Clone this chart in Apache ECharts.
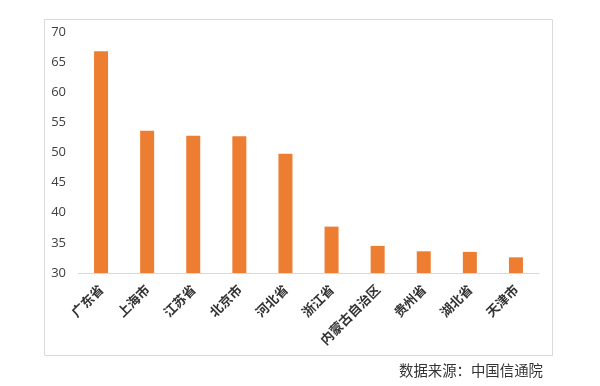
<!DOCTYPE html>
<html><head><meta charset="utf-8">
<script src="https://cdn.jsdelivr.net/npm/echarts@6/dist/echarts.min.js"></script>
<style>html,body{margin:0;padding:0;background:#fff}#c{width:600px;height:386px}</style>
</head><body><div id="c"></div>
<script>
const categories = ['广东省','上海市','江苏省','北京市','河北省','浙江省','内蒙古自治区','贵州省','湖北省','天津市'];
const values = [66.8, 53.6, 52.8, 52.7, 49.8, 37.7, 34.5, 33.6, 33.5, 32.6];
const yMin = 30, yMax = 70, yStep = 5;
const sourceText = '数据来源：中国信通院';

const chart = echarts.init(document.getElementById('c'), null, {renderer:'canvas'});
chart.setOption({
  animation: false,
  backgroundColor: '#fff',
  grid: {left: 78, right: 61, top: 32, bottom: 113, containLabel: false},
  xAxis: {
    type: 'category', data: categories,
    axisLine: {show: true, lineStyle: {color: '#d9d9d9', width: 1}},
    axisTick: {show: false},
    axisLabel: {rotate: 45, interval: 0, margin: 14, color: '#333', fontSize: 13, fontWeight: 'bold',
      fontFamily: '"Noto Sans CJK SC", sans-serif'}
  },
  yAxis: {
    type: 'value', min: yMin, max: yMax, interval: yStep,
    axisLine: {show: false}, axisTick: {show: false}, splitLine: {show: false},
    axisLabel: {color: '#404040', fontSize: 13, margin: 12, fontFamily: '"Open Sans", sans-serif'}
  },
  series: [{
    type: 'bar', data: values, barWidth: 14,
    itemStyle: {color: '#ED7D31'}
  }],
  graphic: [
    {type: 'rect', shape: {x: 44.5, y: 19.5, width: 508, height: 336}, style: {fill: null, stroke: '#d9d9d9', lineWidth: 1}, silent: true, z: -1},
    {type: 'text', left: 399, top: 363, style: {text: sourceText, fill: '#333', font: '14.4px "Noto Sans CJK SC", sans-serif'}}
  ]
});
</script></body></html>
